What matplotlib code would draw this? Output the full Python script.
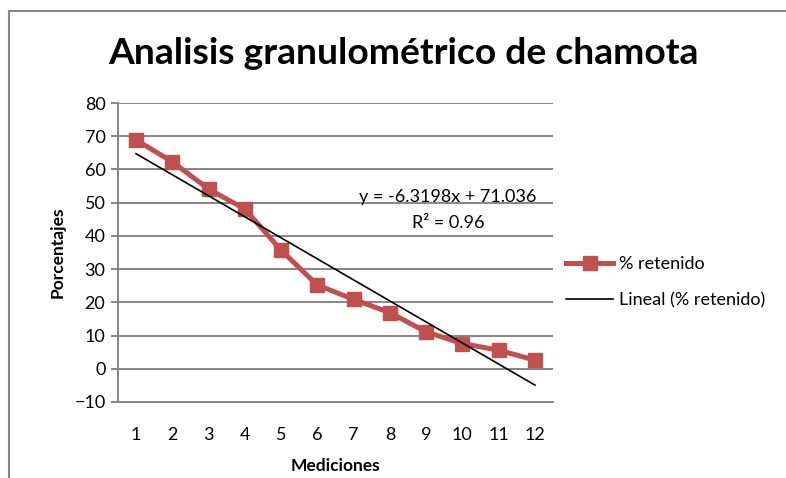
import matplotlib.pyplot as plt
import numpy as np
from matplotlib.lines import Line2D

plt.rcParams['font.family'] = ['Lato', 'DejaVu Sans']

mediciones = [1, 2, 3, 4, 5, 6, 7, 8, 9, 10, 11, 12]
retenido = [68.9, 62.3, 54.1, 48.1, 35.7, 25.2, 20.9, 16.9, 11.1, 7.6, 5.6, 2.6]
y_ticks = [-10, 0, 10, 20, 30, 40, 50, 60, 70, 80]
ecuacion = "y = -6.3198x + 71.036"
r2 = "R² = 0.96"

rojo = '#C0504D'
gris = '#868686'

fig = plt.figure(figsize=(7.86, 4.78), dpi=100)
ax = fig.add_axes([0.150, 0.159, 0.5536, 0.6255])

x = np.array(mediciones)
y = np.array(retenido)

# linea de tendencia
m, b = np.polyfit(x, y, 1)

ax.plot(x, y, color=rojo, lw=3.6, marker='s', ms=10, mec=rojo, mfc=rojo,
        label='% retenido', zorder=3)
ax.plot(x, m * x + b, color='black', lw=1.2, label='Lineal (% retenido)', zorder=4)

ax.set_xlim(0.5, 12.5)
ax.set_ylim(-10, 80)
ax.set_yticks(y_ticks)
ax.set_xticks(mediciones)
ax.grid(axis='y', color=gris, lw=1.4)
ax.set_axisbelow(True)

for s in ['top', 'right']:
    ax.spines[s].set_visible(False)
ax.spines['left'].set_color(gris)
ax.spines['bottom'].set_color(gris)
ax.spines['left'].set_linewidth(1.4)
ax.spines['bottom'].set_linewidth(1.4)

ax.tick_params(axis='y', length=5, color=gris, width=1.4, labelsize=13, pad=4)
ax.tick_params(axis='x', length=0, labelsize=13, pad=18)

ax.set_xlabel('Mediciones', fontsize=12.5, fontweight='bold', labelpad=11)
ax.set_ylabel('Porcentajes', fontsize=12.5, fontweight='bold', labelpad=6)

ax.text(9.6, 51.7, ecuacion, ha='center', va='center', fontsize=13)
ax.text(9.6, 43.9, r2, ha='center', va='center', fontsize=13)

fig.text(0.513, 0.888, 'Analisis granulométrico de chamota', ha='center', va='center',
         fontsize=26.8, fontweight='bold')

fig.legend(loc='upper left', bbox_to_anchor=(0.700, 0.498), frameon=False,
           fontsize=13, handlelength=2.6, labelspacing=1.12, handletextpad=0.3)

# marco
fig.add_artist(Line2D([0.0115, 1], [0.977, 0.977], color=gris, lw=1.5))
fig.add_artist(Line2D([0.0115, 0.0115], [0, 0.977], color=gris, lw=1.5))

fig.savefig('out.png', dpi=100)
